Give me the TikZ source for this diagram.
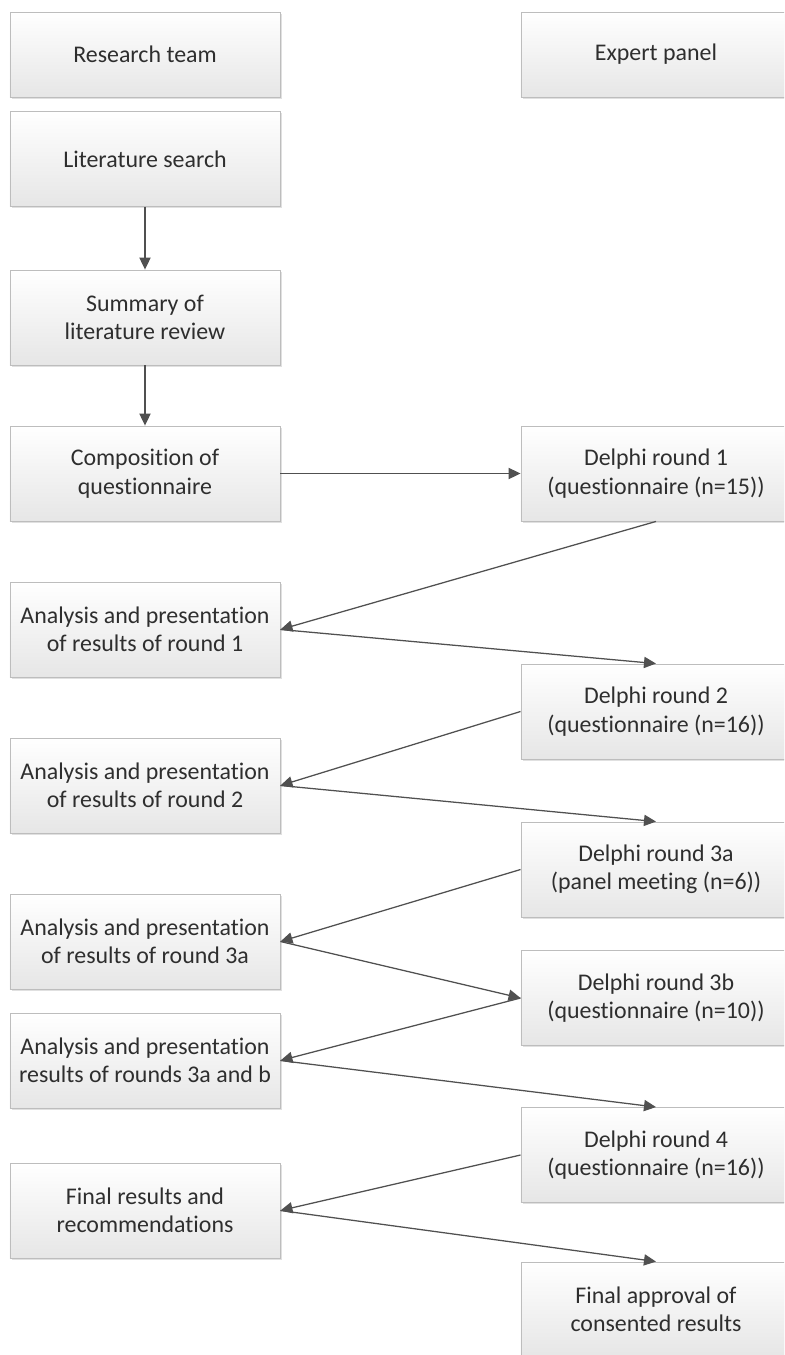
\documentclass[tikz,border=0pt]{standalone}
\usepackage{fontspec}
\setmainfont[Ligatures=NoCommon]{Carlito}
\usepackage{tikz}
\usetikzlibrary{arrows.meta,shadows}

\definecolor{boxline}{HTML}{BDBDBD}
\definecolor{boxbot}{HTML}{E6E6E6}
\definecolor{arrline}{HTML}{505050}
\definecolor{txt}{HTML}{2E2E2E}

\begin{document}
\begin{tikzpicture}[x=0.025cm,y=-0.025cm,
    box/.style={draw=boxline,line width=0.6pt,top color=white,bottom color=boxbot,
      drop shadow={shadow xshift=1.2pt,shadow yshift=-1.2pt,fill=black,opacity=0.12},
      minimum width=6.75cm,minimum height=2.375cm,align=center,text=txt,inner sep=0pt,
      font=\fontsize{17pt}{20.2pt}\selectfont},
    arr/.style={draw=arrline,line width=0.9pt,-{Triangle[length=0.3cm,width=0.28cm]}}]
  \useasboundingbox (0,0) rectangle (784,1355);
  \clip (0,0) rectangle (784,1355);
  % left column
  \node[box,minimum height=2.125cm](team)at(145,54.5){Research team};
  \node[box](lit)at(145,159){Literature search};
  \node[box](summ)at(145,317.5){Summary of\\literature review};
  \node[box](comp)at(145,473.5){Composition of\\questionnaire};
  \node[box](ana1)at(145,629.5){Analysis and presentation\\of results of round 1};
  \node[box](ana2)at(145,785.5){Analysis and presentation\\of results of round 2};
  \node[box](ana3a)at(145,941.5){Analysis and presentation\\of results of round 3a};
  \node[box](ana3b)at(145,1060.5){Analysis and presentation\\results of rounds 3a and b};
  \node[box](fin)at(145,1210.5){Final results and\\recommendations};
  % right column
  \node[box,minimum height=2.125cm](panel)at(656,54.5){Expert panel};
  \node[box](d1)at(656,473.5){Delphi round 1\\(questionnaire (n=15))};
  \node[box](d2)at(656,711.5){Delphi round 2\\(questionnaire (n=16))};
  \node[box](d3a)at(656,869.5){Delphi round 3a\\(panel meeting (n=6))};
  \node[box](d3b)at(656,998){Delphi round 3b\\(questionnaire (n=10))};
  \node[box](d4)at(656,1155){Delphi round 4\\(questionnaire (n=16))};
  \node[box](appr)at(656,1309.5){Final approval of\\consented results};
  % arrows
  \draw[arr](lit)--(summ);
  \draw[arr](summ)--(comp);
  \draw[arr](comp)--(d1);
  \draw[arr](d1.south)--(ana1.east);
  \draw[arr](ana1.east)--(d2.north);
  \draw[arr](d2.west)--(ana2.east);
  \draw[arr](ana2.east)--(d3a.north);
  \draw[arr](d3a.west)--(ana3a.east);
  \draw[arr](ana3a.east)--(d3b.west);
  \draw[arr](d3b.west)--(ana3b.east);
  \draw[arr](ana3b.east)--(d4.north);
  \draw[arr](d4.west)--(fin.east);
  \draw[arr](fin.east)--(appr.north);
\end{tikzpicture}
\end{document}
